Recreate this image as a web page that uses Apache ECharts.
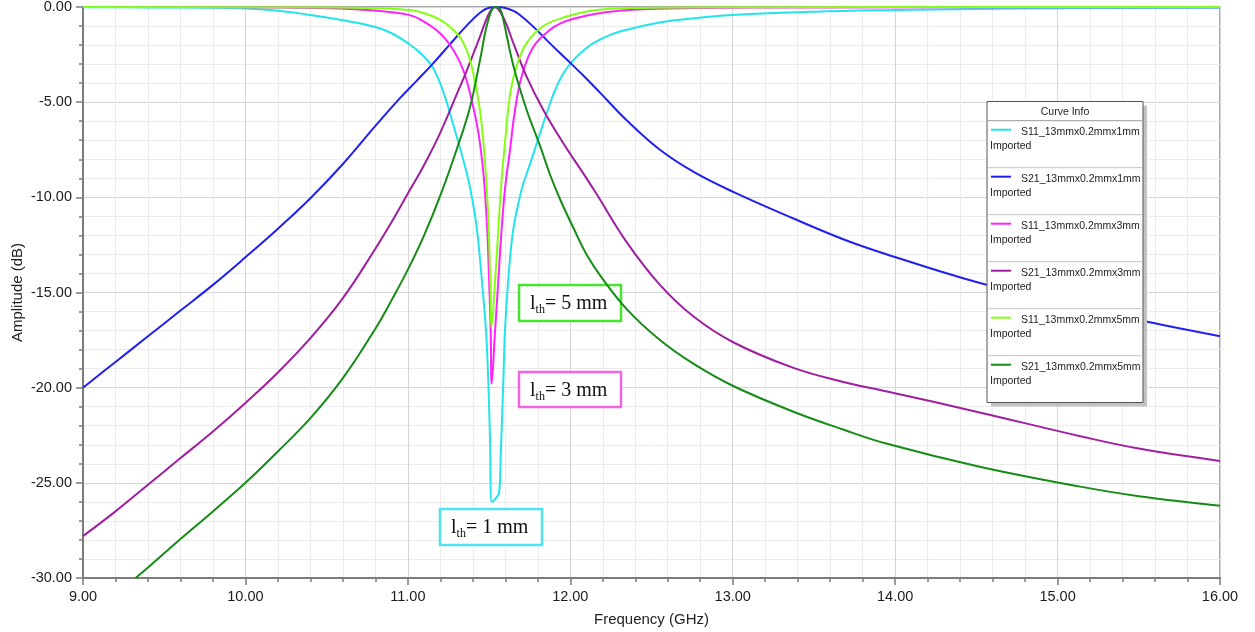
<!DOCTYPE html>
<html>
<head>
<meta charset="utf-8">
<title>S-parameter amplitude</title>
<script src="https://cdn.jsdelivr.net/npm/echarts@6/dist/echarts.min.js"></script>
<style>
  html, body { margin: 0; padding: 0; background: #ffffff; }
  #chart { width: 1255px; height: 632px; }
</style>
</head>
<body>
<div id="chart"></div>
<script>
// Axis ticks (GHz / dB)
const X_TICKS = [9, 10, 11, 12, 13, 14, 15, 16];
const Y_TICKS = [-30, -25, -20, -15, -10, -5, 0];

// Curve names and colours, in legend order
const CURVE_NAMES = [
  'S11_13mmx0.2mmx1mm', 'S21_13mmx0.2mmx1mm',
  'S11_13mmx0.2mmx3mm', 'S21_13mmx0.2mmx3mm',
  'S11_13mmx0.2mmx5mm', 'S21_13mmx0.2mmx5mm'
];
const CURVE_COLORS = ['#22e4ea', '#2020f0', '#ff22ff', '#a01ea0', '#84ff14', '#168c16'];

// [frequency GHz, amplitude dB]
const S11_1MM = [
  [9.0, -0.01], [9.4, -0.02], [9.8, -0.04], [10.0, -0.08], [10.2, -0.2], [10.4, -0.42],
  [10.6, -0.7], [10.8, -1.05], [10.9, -1.38], [11.0, -1.9], [11.075, -2.4],
  [11.155, -3.2], [11.22, -4.5], [11.28, -6.2], [11.34, -8.0], [11.383, -9.5], [11.424, -11.6],
  [11.455, -14.3], [11.481, -17.0], [11.495, -19.6], [11.506, -22.8], [11.516, -26.0],
  [11.562, -25.5], [11.572, -23.5], [11.588, -19.6], [11.598, -17.0], [11.618, -14.35],
  [11.649, -11.7], [11.70, -9.6], [11.75, -8.3], [11.80, -7.0], [11.85, -5.7], [11.90, -4.5],
  [11.95, -3.6], [12.008, -2.9], [12.08, -2.3], [12.142, -1.9], [12.25, -1.45], [12.347, -1.2],
  [12.55, -0.82], [12.75, -0.6], [13.0, -0.42], [13.5, -0.25], [14.0, -0.16], [14.5, -0.1],
  [15.0, -0.07], [16.0, -0.04]
];
const S21_1MM = [
  [9.0, -20.0], [9.2, -18.65], [9.4, -17.3], [9.6, -15.95], [9.8, -14.6], [10.0, -13.15],
  [10.2, -11.65], [10.4, -10.05], [10.6, -8.25], [10.8, -6.25], [10.95, -4.8], [11.054, -3.88],
  [11.157, -2.95], [11.26, -1.95], [11.362, -0.98], [11.444, -0.3], [11.50, -0.04], [11.55, 0],
  [11.60, -0.05], [11.65, -0.2], [11.69, -0.42], [11.772, -1.03], [11.875, -1.91],
  [11.977, -2.75], [12.08, -3.6], [12.183, -4.5], [12.347, -5.95], [12.552, -7.5],
  [12.757, -8.65], [13.0, -9.7], [13.37, -11.1], [13.68, -12.2], [13.95, -13.0],
  [14.5, -14.45], [15.0, -15.5], [15.5, -16.45], [16.0, -17.3]
];
const S11_3MM = [
  [9.0, 0], [10.0, -0.01], [10.4, -0.05], [10.7, -0.13], [10.9, -0.27], [11.0, -0.4],
  [11.075, -0.65], [11.198, -1.38], [11.28, -2.26], [11.341, -3.31], [11.393, -4.89],
  [11.434, -6.6], [11.46, -8.3], [11.476, -9.9], [11.49, -11.9], [11.50, -14.3],
  [11.51, -17.0], [11.516, -19.8], [11.537, -17.0], [11.557, -14.35], [11.577, -11.7],
  [11.6, -9.4], [11.629, -7.5], [11.66, -5.4], [11.70, -3.66], [11.772, -2.1],
  [11.875, -1.2], [11.94, -0.86], [12.02, -0.62], [12.142, -0.38], [12.3, -0.2],
  [12.45, -0.12], [12.757, -0.05], [13.5, -0.02], [16.0, -0.01]
];
const S21_3MM = [
  [9.0, -27.8], [9.2, -26.5], [9.4, -25.1], [9.6, -23.7], [9.8, -22.3], [10.0, -20.8],
  [10.2, -19.2], [10.4, -17.4], [10.6, -15.3], [10.8, -12.7], [10.9, -11.3], [11.0, -9.8],
  [11.1, -8.3], [11.2, -6.6], [11.3, -4.6], [11.362, -3.35], [11.444, -1.56], [11.495, -0.42],
  [11.535, 0], [11.588, -0.55], [11.65, -1.91], [11.731, -3.66], [11.834, -5.41],
  [11.957, -7.16], [12.08, -8.74], [12.16, -9.8], [12.347, -12.35], [12.552, -14.6],
  [12.757, -16.25], [13.0, -17.6], [13.37, -18.95], [13.68, -19.7], [13.95, -20.2],
  [14.52, -21.3], [15.14, -22.55], [15.5, -23.2], [16.0, -23.85]
];
const S11_5MM = [
  [9.0, 0], [10.5, -0.02], [10.952, -0.12], [11.157, -0.5], [11.3, -1.38], [11.362, -2.26],
  [11.403, -3.5], [11.44, -5.2], [11.464, -7.0], [11.48, -8.8], [11.492, -10.5],
  [11.50, -12.3], [11.508, -14.5], [11.516, -16.8], [11.537, -14.4], [11.557, -11.7],
  [11.577, -9.1], [11.604, -6.6], [11.629, -4.6], [11.67, -3.1], [11.731, -1.9],
  [11.834, -1.0], [11.977, -0.5], [12.14, -0.18], [12.4, -0.05], [13.0, -0.01], [16.0, 0]
];
const S21_5MM = [
  [9.324, -30.0], [9.4, -29.45], [9.6, -27.95], [9.8, -26.5], [10.0, -25.0], [10.2, -23.35],
  [10.4, -21.6], [10.6, -19.5], [10.8, -16.9], [10.9, -15.4], [11.0, -13.8], [11.1, -12.0],
  [11.2, -9.9], [11.3, -7.5], [11.383, -5.25], [11.444, -2.8],
  [11.495, -0.68], [11.537, 0], [11.567, -0.1], [11.588, -0.68], [11.65, -3.1],
  [11.731, -5.4], [11.814, -7.3], [11.875, -8.8], [11.937, -10.1], [12.019, -11.6],
  [12.10, -13.0], [12.2, -14.3], [12.35, -15.9], [12.552, -17.5], [12.75, -18.7],
  [13.0, -19.9], [13.37, -21.25], [13.68, -22.2], [13.95, -22.95], [14.52, -24.15],
  [15.14, -25.2], [15.5, -25.7], [16.0, -26.2]
];
const CURVE_DATA = [S11_1MM, S21_1MM, S11_3MM, S21_3MM, S11_5MM, S21_5MM];

// Thickness annotations: text after the subscript, frame colour
const ANNOTATIONS = [
  { value: '= 5 mm', color: '#46e62e' },
  { value: '= 3 mm', color: '#f064e0' },
  { value: '= 1 mm', color: '#4ee2f2' }
];

const SANS = "'Liberation Sans', Arial, Helvetica, sans-serif";
const SERIF = "'Liberation Serif', 'Times New Roman', serif";
const AXIS_GREY = '#7c7c7c';

function axisCommon(ticks) {
  return {
    type: 'value',
    min: ticks[0],
    max: ticks[ticks.length - 1],
    interval: ticks[1] - ticks[0],
    nameLocation: 'middle',
    nameMoveOverlap: false,
    nameTextStyle: { fontFamily: SANS, fontSize: 15, color: '#222' },
    axisLine: { show: true, onZero: false, lineStyle: { color: AXIS_GREY, width: 2 } },
    axisTick: { show: true, inside: false, length: 7, lineStyle: { color: AXIS_GREY, width: 1.5 } },
    minorTick: { show: true, splitNumber: 5, length: 4, lineStyle: { color: AXIS_GREY, width: 1.5 } },
    splitLine: { show: true, lineStyle: { color: '#d6d6d6', width: 1 } },
    minorSplitLine: { show: true, lineStyle: { color: '#ececec', width: 1 } },
    axisLabel: {
      formatter: v => v.toFixed(2),
      margin: 11,
      fontFamily: SANS,
      fontSize: 14.5,
      color: '#1c1c1c'
    }
  };
}

const xAxis = Object.assign(axisCommon(X_TICKS), { name: 'Frequency (GHz)', nameGap: 34 });
const yAxis = Object.assign(axisCommon(Y_TICKS), { name: 'Amplitude (dB)', nameGap: 58, nameRotate: 90 });

const series = CURVE_NAMES.map((name, i) => ({
  name: name,
  type: 'line',
  data: CURVE_DATA[i],
  showSymbol: false,
  symbol: 'none',
  smooth: 0.4,
  clip: true,
  z: 2 + i * 0.01,
  color: CURVE_COLORS[i],
  lineStyle: { color: CURVE_COLORS[i], width: 2 },
  emphasis: { disabled: true }
}));

// Annotation frames with "l_th = n mm" labels
const annoBoxes = [
  { x: 519, y: 285, w: 102, h: 36 },
  { x: 519, y: 372, w: 102, h: 35 },
  { x: 440, y: 509, w: 102, h: 36 }
];
const annoGraphics = [];
ANNOTATIONS.forEach((a, i) => {
  const b = annoBoxes[i];
  annoGraphics.push({
    type: 'rect', z: 1,
    shape: { x: b.x, y: b.y, width: b.w, height: b.h },
    style: { fill: '#ffffff', stroke: a.color, lineWidth: 2.5 }
  });
  annoGraphics.push({
    type: 'text', z: 3,
    x: b.x + 11, y: b.y + b.h / 2 + 1,
    style: {
      text: '{m|l}{s|th}{m|' + a.value + '}',
      align: 'left', verticalAlign: 'middle',
      rich: {
        m: { fontFamily: SERIF, fontSize: 20, lineHeight: 24, fill: '#111', color: '#111', verticalAlign: 'middle' },
        s: { fontFamily: SERIF, fontSize: 12, lineHeight: 12, fill: '#111', color: '#111', verticalAlign: 'bottom' }
      }
    }
  });
});

// "Curve Info" legend panel
const LEG = { x: 987, y: 101.5, w: 156, h: 301, head: 19.2, row: 47 };
const legendGraphics = [
  { type: 'rect', z: 10, shape: { x: LEG.x + 4, y: LEG.y + 4, width: LEG.w, height: LEG.h },
    style: { fill: '#c2c2c2' } },
  { type: 'rect', z: 11, shape: { x: LEG.x, y: LEG.y, width: LEG.w, height: LEG.h },
    style: { fill: '#ffffff', stroke: '#555555', lineWidth: 1 } },
  { type: 'text', z: 12, x: LEG.x + LEG.w / 2, y: LEG.y + 11,
    style: { text: 'Curve Info', fontFamily: SANS, fontSize: 10.5, fill: '#222',
             align: 'center', verticalAlign: 'middle' } }
];
CURVE_NAMES.forEach((name, i) => {
  const top = LEG.y + LEG.head + i * LEG.row;
  legendGraphics.push({
    type: 'line', z: 12,
    shape: { x1: LEG.x + 1, y1: top, x2: LEG.x + LEG.w - 1, y2: top },
    style: { stroke: i === 0 ? '#9a9a9a' : '#c4c4c4', lineWidth: 1 }
  });
  legendGraphics.push({
    type: 'line', z: 12,
    shape: { x1: LEG.x + 4, y1: top + 9, x2: LEG.x + 24, y2: top + 9 },
    style: { stroke: CURVE_COLORS[i], lineWidth: 2 }
  });
  legendGraphics.push({
    type: 'text', z: 12, x: LEG.x + 34, y: top + 11.5,
    style: { text: name, fontFamily: SANS, fontSize: 10.5, fill: '#222',
             align: 'left', verticalAlign: 'middle' }
  });
  legendGraphics.push({
    type: 'text', z: 12, x: LEG.x + 3, y: top + 25.5,
    style: { text: 'Imported', fontFamily: SANS, fontSize: 10.5, fill: '#222',
             align: 'left', verticalAlign: 'middle' }
  });
});

const chart = echarts.init(document.getElementById('chart'), null, { renderer: 'canvas' });
chart.setOption({
  animation: false,
  backgroundColor: '#ffffff',
  grid: {
    left: 83, right: 35, top: 7, bottom: 54,
    containLabel: false, outerBoundsMode: 'none',
    show: true, borderColor: '#8a8a8a', borderWidth: 1.5, backgroundColor: 'transparent'
  },
  legend: { show: false, data: CURVE_NAMES },
  tooltip: { show: false },
  xAxis: xAxis,
  yAxis: yAxis,
  series: series,
  graphic: { elements: annoGraphics.concat(legendGraphics) }
});
</script>
</body>
</html>
